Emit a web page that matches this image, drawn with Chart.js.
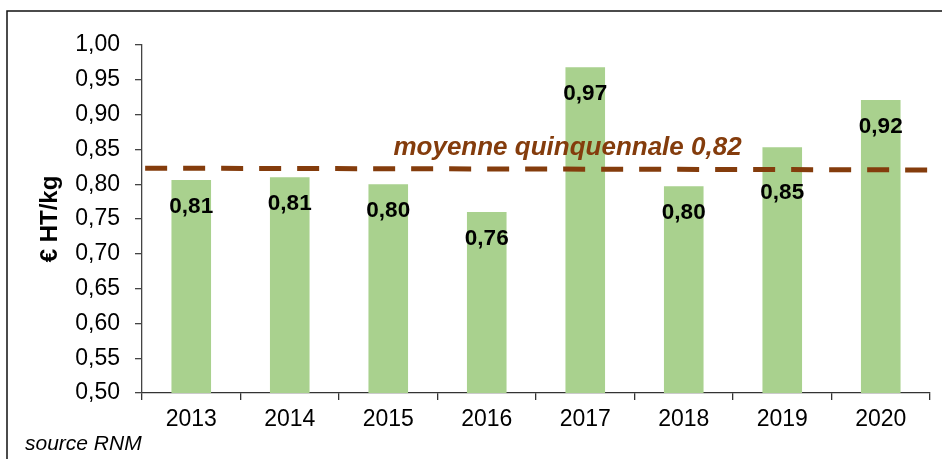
<!DOCTYPE html>
<html lang="fr">
<head>
<meta charset="utf-8">
<title>Prix moyen € HT/kg 2013-2020</title>
<script src="https://cdn.jsdelivr.net/npm/chart.js@4/dist/chart.umd.min.js"></script>
<style>
  html, body { margin: 0; padding: 0; background: #fff; }
  #wrap { position: relative; width: 942px; height: 459px; }
</style>
</head>
<body>
<div id="wrap"><canvas id="prix" width="942" height="459"></canvas></div>
<script>
// Prix annuels (€ HT/kg)
const annees = ['2013', '2014', '2015', '2016', '2017', '2018', '2019', '2020'];
const prix = [0.806, 0.810, 0.800, 0.760, 0.968, 0.797, 0.853, 0.921];

// Moyenne quinquennale, tracée d'un bord à l'autre de la zone graphique
const moyenneX = [0.004, 1];
const moyenneY = [0.823, 0.8205];
const moyenneTexte = 'moyenne quinquennale 0,82';

const VERT = '#A9D18E';
const BRUN = '#843C0C';
const POLICE = "'Liberation Sans', Arial, sans-serif";

const fmt = v => v.toFixed(2).replace('.', ',');

// étiquettes de valeur, annotation, source et cadre
const habillage = {
  id: 'habillage',
  beforeDraw(chart) {
    const ctx = chart.ctx;
    ctx.save();
    ctx.strokeStyle = '#111';
    ctx.lineWidth = 1.5;
    ctx.beginPath();
    ctx.moveTo(7, 459);
    ctx.lineTo(7, 11);
    ctx.lineTo(942, 11);
    ctx.stroke();
    ctx.restore();
  },
  afterDatasetsDraw(chart) {
    const ctx = chart.ctx;
    const x2 = chart.scales.x2;
    const y = chart.scales.y;
    ctx.save();

    // valeur sous le haut de chaque barre ; décalée sous la moyenne si elle la chevauche
    const meta = chart.getDatasetMeta(0);
    const ligne = chart.getDatasetMeta(1).data;
    ctx.font = 'bold 22.5px ' + POLICE;
    ctx.fillStyle = '#000';
    ctx.textAlign = 'center';
    ctx.textBaseline = 'middle';
    meta.data.forEach((bar, i) => {
      let ty = bar.y + 27;
      const ly = ligne[0].y + (ligne[1].y - ligne[0].y) * (bar.x - ligne[0].x) / (ligne[1].x - ligne[0].x);
      if (Math.abs(ty - ly) < 14) ty = ly + 23;
      ctx.fillText(fmt(prix[i]), bar.x, ty);
    });

    ctx.font = 'italic bold 26px ' + POLICE;
    ctx.fillStyle = BRUN;
    ctx.textBaseline = 'alphabetic';
    ctx.fillText(moyenneTexte, x2.getPixelForValue(0.54), y.getPixelForValue(0.8225) - 14);

    ctx.font = 'italic 21px ' + POLICE;
    ctx.fillStyle = '#000';
    ctx.textAlign = 'left';
    ctx.fillText('source RNM', 25, 450);
    ctx.restore();
  }
};

new Chart(document.getElementById('prix'), {
  data: {
    labels: annees,
    datasets: [
      {
        type: 'bar',
        data: prix,
        backgroundColor: VERT,
        borderWidth: 0,
        grouped: false,
        barPercentage: 0.402,
        categoryPercentage: 1.0,
        order: 2
      },
      {
        type: 'line',
        xAxisID: 'x2',
        data: moyenneX.map((x, i) => ({ x: x, y: moyenneY[i] })),
        borderColor: BRUN,
        borderWidth: 5,
        borderDash: [22, 16],
        borderCapStyle: 'butt',
        pointRadius: 0,
        fill: false,
        order: 1
      }
    ]
  },
  options: {
    responsive: false,
    animation: false,
    layout: { padding: { top: 45, right: 12, bottom: 0, left: 0 } },
    plugins: { legend: { display: false }, tooltip: { enabled: false } },
    scales: {
      x: {
        type: 'category',
        offset: true,
        grid: { display: true, offset: true, drawOnChartArea: false, drawTicks: true, tickLength: 7, color: '#333', lineWidth: 1.3 },
        border: { display: true, color: '#333', width: 1.3 },
        ticks: { color: '#000', font: { family: POLICE, size: 23 }, padding: 6, maxRotation: 0 },
        afterFit(scale) { scale.height = 66; }
      },
      x2: {
        type: 'linear',
        display: false,
        min: 0,
        max: 1
      },
      y: {
        min: 0.5,
        max: 1.0,
        grid: { display: true, drawOnChartArea: false, drawTicks: true, tickLength: 7, color: '#444', lineWidth: 1.3 },
        border: { display: true, color: '#444', width: 1.3 },
        ticks: {
          stepSize: 0.05,
          color: '#000',
          padding: 15,
          font: { family: POLICE, size: 23 },
          callback: v => fmt(v)
        },
        title: {
          display: true,
          text: '€ HT/kg',
          color: '#000',
          font: { family: POLICE, size: 24, weight: 'bold' },
          padding: { top: 36, bottom: 0 }
        },
        afterFit(scale) { scale.width = 142; }
      }
    }
  },
  plugins: [habillage]
});
</script>
</body>
</html>
